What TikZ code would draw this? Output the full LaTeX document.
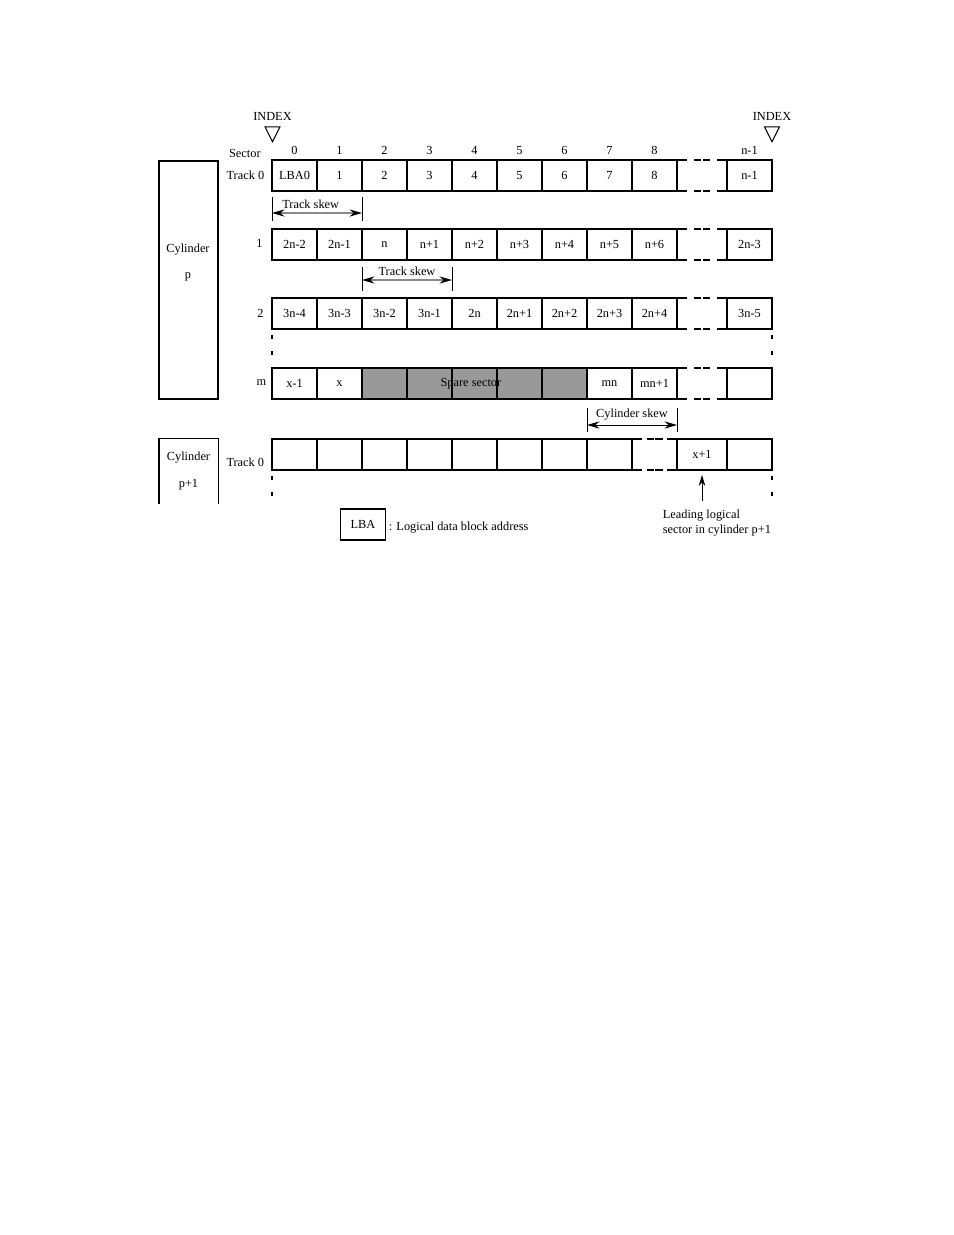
\documentclass[tikz,border=0pt]{standalone}
\usepackage{fontspec}
\setmainfont{Liberation Serif}
\usetikzlibrary{arrows.meta, positioning, shapes.geometric, calc}
\definecolor{spareGray}{HTML}{999999}
\definecolor{skewGray}{HTML}{8A8A8A}
\tikzset{
  cell/.style={rectangle, draw, line width=0.7pt, minimum width=28.8pt,
               minimum height=19.84pt, inner sep=0pt, outer sep=0pt},
  wideCell/.style={cell, minimum width=32pt},
  rowLabel/.style={inner sep=1pt},
  secNum/.style={inner sep=1pt},
  gapDash/.style={line width=1.7pt, dash pattern=on 4.5pt off 1.24pt},
  dotDash/.style={line width=1.2pt, dash pattern=on 2.56pt off 7.68pt},
  skewBar/.style={line width=0.5pt},
  arrowS/.style={{Stealth[length=8pt, width=4.6pt, color=black]}-{Stealth[length=8pt, width=4.6pt, color=black]},
                 draw=skewGray, line width=0.7pt},
  arrowK/.style={{Stealth[length=8pt, width=4.6pt]}-{Stealth[length=8pt, width=4.6pt]}, line width=0.6pt},
  arrowUp/.style={-{Stealth[length=7pt, width=4.2pt]}, line width=0.5pt},
  indexMark/.style={isosceles triangle, isosceles triangle stretches, shape border rotate=-90,
                    draw, line width=0.6pt, minimum width=9.6pt, minimum height=9.6pt, inner sep=0pt},
}
\newcommand{\trackgap}[2]{%
  \draw[line width=0.7pt] (#1.north east) -- ++(10,0) (#1.south east) -- ++(10,0)
    (#2.north west) -- ++(-10,0) (#2.south west) -- ++(-10,0);
  \draw[gapDash] ($(#1.north east)!0.5!(#2.north west)+(-8,0)$) -- ++(16,0)
    ($(#1.south east)!0.5!(#2.south west)+(-8,0)$) -- ++(16,0);
}
\newcommand{\vellipsis}[1]{\draw[dotDash] ($(#1)+(0,6)$) -- ($(#1)+(0,26)$);}

\begin{document}
\begin{tikzpicture}[x=0.64pt, y=-0.64pt, font=\fontsize{7.9}{9.6}\selectfont]
  \useasboundingbox (0,0) rectangle (954,1235);

  % cylinder p
  \node[draw, line width=0.7pt, minimum width=37.8pt, minimum height=152.3pt, inner sep=0pt] (cylp) at (188.5,280) {};
  \node[rowLabel, align=center] (cylpText) at (188,262.5) {Cylinder\\[7.6pt]p};

  \foreach \lab [count=\i from 0] in {LBA0,1,2,3,4,5,6,7,8}
    \node[cell] (ta\i) at ({294.5+45*\i},175.5) {\lab};
  \node[cell] (tan) at (749.5,175.5) {n-1};
  \trackgap{ta8}{tan}

  \foreach \lab [count=\i from 0] in {2n-2,2n-1,n,n+1,n+2,n+3,n+4,n+5,n+6}
    \node[cell] (tb\i) at ({294.5+45*\i},244.5) {\lab};
  \node[cell] (tbn) at (749.5,244.5) {2n-3};
  \trackgap{tb8}{tbn}

  \foreach \lab [count=\i from 0] in {3n-4,3n-3,3n-2,3n-1,2n,2n+1,2n+2,2n+3,2n+4}
    \node[cell] (tc\i) at ({294.5+45*\i},313.5) {\lab};
  \node[cell] (tcn) at (749.5,313.5) {3n-5};
  \trackgap{tc8}{tcn}

  \foreach \lab/\fc [count=\i from 0] in {x-1/white,x/white,{}/spareGray,{}/spareGray,{}/spareGray,{}/spareGray,{}/spareGray,mn/white,mn+1/white}
    \node[cell, fill=\fc] (tm\i) at ({294.5+45*\i},383.5) {\lab};
  \node[cell] (tmn) at (749.5,383.5) {};
  \trackgap{tm8}{tmn}
  \node[rowLabel] (spare) at ($(tm2)!0.48!(tm6)$) {Spare sector};

  \vellipsis{tc0.south west}
  \vellipsis{tcn.south east}

  % sector numbers and index marks
  \foreach \i in {0,...,8}
    \node[secNum, above=2.2pt of ta\i] (sn\i) {\i};
  \node[secNum, above=2.2pt of tan] (snn) {n-1};
  \node[rowLabel, anchor=east] (secLab) at (262.5,153.5) {Sector};
  \node[indexMark, anchor=apex] (idxL) at ($(ta0.north west)+(0.5,-17)$) {};
  \node[secNum, above=2.2pt of idxL] (idxLText) {INDEX};
  \node[indexMark, anchor=apex] (idxR) at ($(tan.north east)+(0,-17)$) {};
  \node[secNum, above=2.2pt of idxR] (idxRText) {INDEX};

  % track labels
  \node[rowLabel, left=3.8pt of ta0] (lab0) {Track 0};
  \node[rowLabel] (lab1) at ($(tb0.west)+(-12.5,-1)$) {1};
  \node[rowLabel] (lab2) at ($(tc0.west)+(-11.5,-0.5)$) {2};
  \node[rowLabel] (labm) at ($(tm0.west)+(-10.5,-0.5)$) {m};

  % skews
  \coordinate (skA) at ($(ta0.south west)+(0,22)$);
  \coordinate (skB) at ($(ta2.south west)+(0,22)$);
  \draw[skewBar] ($(skA)+(0,-16)$) -- ($(skA)+(0,8)$) ($(skB)+(0,-16)$) -- ($(skB)+(0,8)$);
  \draw[arrowS] (skA) -- node[secNum, above=1.5pt, pos=0.43] (skLabA) {Track skew} (skB);

  \coordinate (skC) at ($(tb2.south west)+(0,20)$);
  \coordinate (skD) at ($(tb4.south west)+(0,20)$);
  \draw[skewBar] ($(skC)+(0,-13)$) -- ($(skC)+(0,11)$) ($(skD)+(0,-13)$) -- ($(skD)+(0,11)$);
  \draw[arrowS] (skC) -- node[secNum, above=1.5pt] (skLabB) {Track skew} (skD);

  \coordinate (skE) at ($(tm7.south west)+(0,26)$);
  \coordinate (skF) at ($(tm8.south east)+(0,26)$);
  \draw[skewBar] ($(skE)+(0,-17)$) -- ($(skE)+(0,7)$) ($(skF)+(0,-17)$) -- ($(skF)+(0,7)$);
  \draw[arrowK] (skE) -- node[secNum, above=2pt] (skLabC) {Cylinder skew} (skF);

  % cylinder p+1
  \draw[line width=0.7pt] (159,504) |- (218.5,438.5) -- (218.5,504);
  \node[rowLabel, align=center] (cylqText) at (188.5,471) {Cylinder\\[7.6pt]p+1};

  \foreach \i in {0,...,7}
    \node[cell] (tp\i) at ({294.5+45*\i},454.5) {};
  \node[wideCell] (tpx) at (702,454.5) {x+1};
  \node[cell] (tpl) at (749.5,454.5) {};
  \trackgap{tp7}{tpx}
  \node[rowLabel, anchor=east] (labp) at ($(tp0.west)+(-6,8)$) {Track 0};

  \vellipsis{tp0.south west}
  \vellipsis{tpl.south east}

  \node[secNum, align=left, anchor=north west] (lead) at (661,508) {Leading logical\\sector in cylinder p+1};
  \draw[arrowUp] (lead.north -| tpx.south) ++(0,-7) -- ($(tpx.south)+(0,5)$);

  % legend
  \node[cell] (legBox) at (363,524.5) {LBA};
  \node[secNum, right=1pt of legBox, yshift=-2pt] (legText) {: Logical data block address};
\end{tikzpicture}
\end{document}
